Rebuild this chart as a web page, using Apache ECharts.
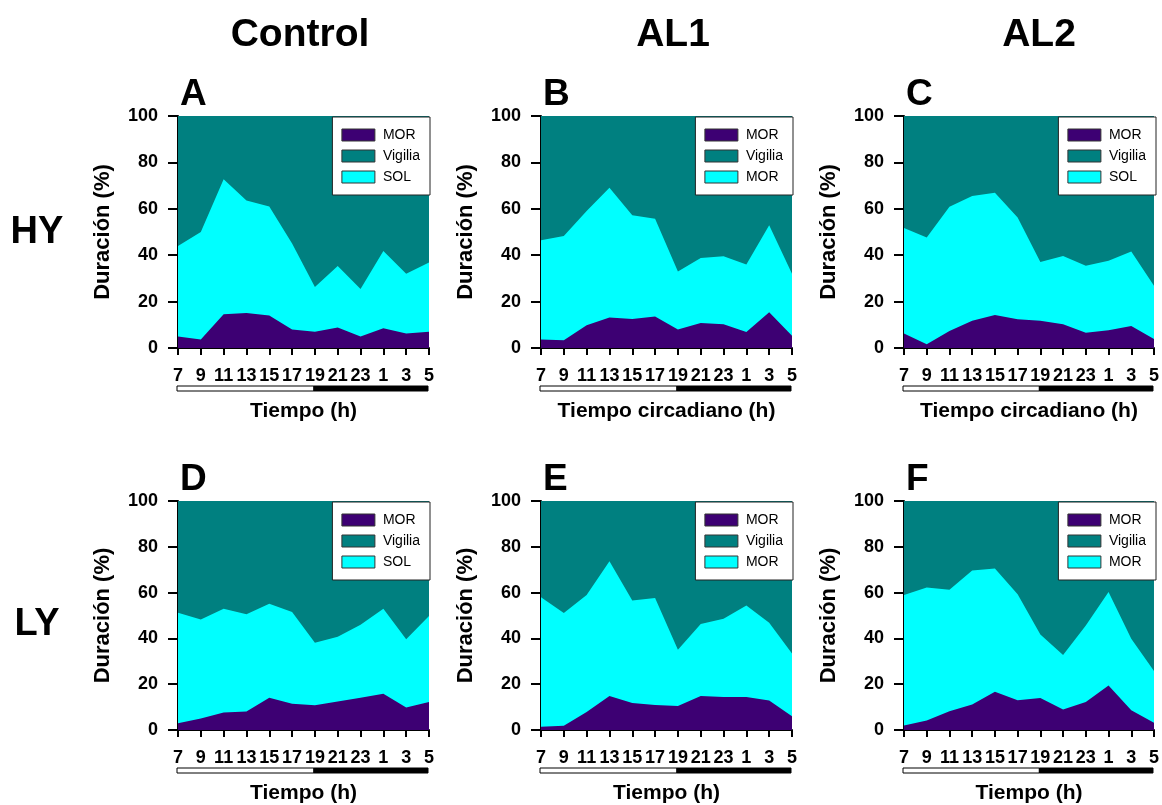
<!DOCTYPE html>
<html>
<head>
<meta charset="utf-8">
<script src="https://cdn.jsdelivr.net/npm/echarts@6/dist/echarts.min.js"></script>
<style>
  html, body { margin: 0; padding: 0; background: #ffffff; }
  #main { width: 1162px; height: 805px; }
</style>
</head>
<body>
<div id="main"></div>
<script>
// Horas de registro (25, 27, 29 = 1, 3, 5 h del día siguiente)
const horas = [7, 9, 11, 13, 15, 17, 19, 21, 23, 25, 27, 29];
const etiquetasHora = ['7', '9', '11', '13', '15', '17', '19', '21', '23', '1', '3', '5'];

// Fase luz (7-19 h) y oscuridad (19-5 h): [inicio, fin, oscuro]
const fases = [[7, 19, 0], [19, 29, 1]];

// Duración de MOR (%) por panel
const morA = [5, 3.7, 14.5, 15.1, 14, 8, 7, 8.8, 5, 8.5, 6.2, 7];
const morB = [3.7, 3.3, 9.8, 13.2, 12.5, 13.6, 8, 10.8, 10.2, 6.9, 15.4, 5.3];
const morC = [6.2, 1.6, 7.3, 11.7, 14.2, 12.4, 11.7, 10.2, 6.6, 7.6, 9.5, 3.9];
const morD = [3, 5, 7.6, 8.1, 14.1, 11.5, 10.8, 12.4, 14.1, 15.8, 9.8, 12.2];
const morE = [1.4, 1.9, 7.9, 14.8, 11.8, 10.9, 10.5, 14.8, 14.4, 14.4, 12.9, 6];
const morF = [2, 4.2, 8.2, 11.1, 16.7, 13, 14, 8.9, 12.2, 19.4, 8.6, 3.2];

// Sueño total, MOR + SOL (%) por panel; el resto hasta 100 es vigilia
const suenoA = [44, 50, 72.7, 63.6, 61, 45, 26.3, 35.3, 25.4, 41.8, 32, 36.8];
const suenoB = [46.4, 48.3, 59, 69.1, 57.2, 55.7, 33, 38.8, 39.5, 36, 52.9, 32];
const suenoC = [51.7, 47.6, 60.9, 65.5, 66.9, 56.3, 37.1, 39.7, 35.5, 37.6, 41.6, 26.8];
const suenoD = [51.2, 48.2, 53, 50.5, 55.1, 51.5, 38.1, 40.7, 46, 53, 39.6, 49.8];
const suenoE = [58, 51.1, 59, 73.7, 56.5, 57.6, 35, 46.3, 48.6, 54.4, 46.8, 33.4];
const suenoF = [59, 62.2, 61.2, 69.6, 70.5, 59.3, 41.7, 32.7, 45.6, 60.3, 39.9, 25.8];

const seriesNombres = ['MOR', 'Vigilia', 'SOL'];
const leyendaSOL = ['MOR', 'Vigilia', 'SOL'];
const leyendaAL = ['MOR', 'Vigilia', 'MOR'];

const COLOR_MOR = '#3d0073';
const COLOR_VIGILIA = '#008080';
const COLOR_SOL = '#00ffff';
const FONT = "'Liberation Sans', Arial, Helvetica, sans-serif";

const paneles = [
  { letra: 'A', mor: morA, sueno: suenoA, leyenda: leyendaSOL, ejeX: 'Tiempo (h)',            left: 178, top: 116 },
  { letra: 'B', mor: morB, sueno: suenoB, leyenda: leyendaAL,  ejeX: 'Tiempo circadiano (h)', left: 541, top: 116 },
  { letra: 'C', mor: morC, sueno: suenoC, leyenda: leyendaSOL, ejeX: 'Tiempo circadiano (h)', left: 904, top: 116 },
  { letra: 'D', mor: morD, sueno: suenoD, leyenda: leyendaSOL, ejeX: 'Tiempo (h)',            left: 178, top: 501 },
  { letra: 'E', mor: morE, sueno: suenoE, leyenda: leyendaAL,  ejeX: 'Tiempo (h)',            left: 541, top: 501 },
  { letra: 'F', mor: morF, sueno: suenoF, leyenda: leyendaAL,  ejeX: 'Tiempo (h)',            left: 904, top: 501 }
];
const ANCHO = 251, ALTO = 232;

const grid = [], xAxis = [], yAxis = [], series = [], legend = [], graphic = [];

function pares(valores) {
  return horas.map((h, i) => [h, valores[i]]);
}

paneles.forEach((p, i) => {
  grid.push({ left: p.left, top: p.top, width: ANCHO, height: ALTO, containLabel: false });

  xAxis.push({
    gridIndex: i, type: 'value', min: 7, max: 29, interval: 2,
    name: p.ejeX, nameLocation: 'middle', nameGap: 53,
    nameTextStyle: { fontFamily: FONT, fontWeight: 'bold', fontSize: 21, color: '#000' },
    axisLine: { lineStyle: { color: '#000', width: 2 } },
    axisTick: { inside: false, length: 7, lineStyle: { color: '#000', width: 2 } },
    axisLabel: {
      margin: 19, fontFamily: FONT, fontWeight: 'bold', fontSize: 18, color: '#000',
      formatter: v => etiquetasHora[horas.indexOf(v)] ?? ''
    },
    splitLine: { show: false }
  });

  yAxis.push({
    gridIndex: i, type: 'value', min: 0, max: 100, interval: 20,
    name: 'Duración (%)', nameLocation: 'middle', nameGap: 64, nameRotate: 90,
    nameTextStyle: { fontFamily: FONT, fontWeight: 'bold', fontSize: 22, color: '#000' },
    axisLine: { show: true, lineStyle: { color: '#000', width: 2 } },
    axisTick: { show: true, inside: false, length: 10, lineStyle: { color: '#000', width: 2 } },
    axisLabel: { margin: 20, fontFamily: FONT, fontWeight: 'bold', fontSize: 18, color: '#000' },
    splitLine: { show: false }
  });

  const comunes = {
    type: 'line', xAxisIndex: i, yAxisIndex: i, showSymbol: false, symbol: 'none',
    lineStyle: { width: 0 }, silent: true, z: 2
  };

  // Vigilia: todo el panel hasta 100 %
  series.push(Object.assign({}, comunes, {
    name: 'Vigilia', data: [[7, 100], [29, 100]],
    itemStyle: { color: COLOR_VIGILIA },
    areaStyle: { color: COLOR_VIGILIA, opacity: 1 }
  }));
  // SOL: desde MOR hasta el sueño total (se dibuja desde 0, MOR lo cubre)
  series.push(Object.assign({}, comunes, {
    name: 'SOL', data: pares(p.sueno),
    itemStyle: { color: COLOR_SOL },
    areaStyle: { color: COLOR_SOL, opacity: 1 }
  }));
  // MOR
  series.push(Object.assign({}, comunes, {
    name: 'MOR', data: pares(p.mor),
    itemStyle: { color: COLOR_MOR },
    areaStyle: { color: COLOR_MOR, opacity: 1 }
  }));

  // Barra luz/oscuridad bajo las etiquetas del eje x
  series.push({
    type: 'custom', xAxisIndex: i, yAxisIndex: i, clip: false, silent: true, z: 5,
    data: fases,
    encode: { x: [0, 1], y: 2 },
    renderItem: (params, api) => {
      const a = api.coord([api.value(0), 0]);
      const b = api.coord([api.value(1), 0]);
      const oscuro = api.value(2) === 1;
      return {
        type: 'rect',
        shape: { x: a[0] - 1, y: a[1] + 38, width: b[0] - a[0], height: 5 },
        style: { fill: oscuro ? '#000' : '#fff', stroke: '#000', lineWidth: 1 }
      };
    }
  });

  legend.push({
    right: 1162 - (p.left + ANCHO) - 1,
    top: p.top + 1,
    orient: 'vertical',
    data: seriesNombres.map(n => ({ name: n })),
    icon: 'rect',
    itemWidth: 33, itemHeight: 12, itemGap: 7,
    padding: [11, 10, 11, 9],
    backgroundColor: '#ffffff',
    borderColor: '#222', borderWidth: 1,
    itemStyle: { borderColor: '#333', borderWidth: 1 },
    selectedMode: false,
    textStyle: { fontFamily: FONT, fontSize: 14, color: '#000', padding: [0, 0, 0, 3] },
    formatter: ((etq) => name => etq[seriesNombres.indexOf(name)])(p.leyenda)
  });

  graphic.push({
    type: 'text', left: p.left + 2, top: p.top - 40,
    style: { text: p.letra, font: "bold 37px " + FONT, fill: '#000' }
  });
});

// Títulos de columna y de fila
[['Control', 300], ['AL1', 673], ['AL2', 1039]].forEach(([t, x]) => {
  graphic.push({
    type: 'text', x: x, y: 35,
    style: { text: t, font: "bold 39px " + FONT, fill: '#000', textAlign: 'center', textVerticalAlign: 'middle' }
  });
});
[['HY', 233], ['LY', 625]].forEach(([t, y]) => {
  graphic.push({
    type: 'text', x: 37, y: y,
    style: { text: t, font: "bold 38px " + FONT, fill: '#000', textAlign: 'center', textVerticalAlign: 'middle' }
  });
});

const chart = echarts.init(document.getElementById('main'), null, { renderer: 'canvas' });
chart.setOption({
  animation: false,
  backgroundColor: '#ffffff',
  grid, xAxis, yAxis, series, legend, graphic
});
</script>
</body>
</html>
